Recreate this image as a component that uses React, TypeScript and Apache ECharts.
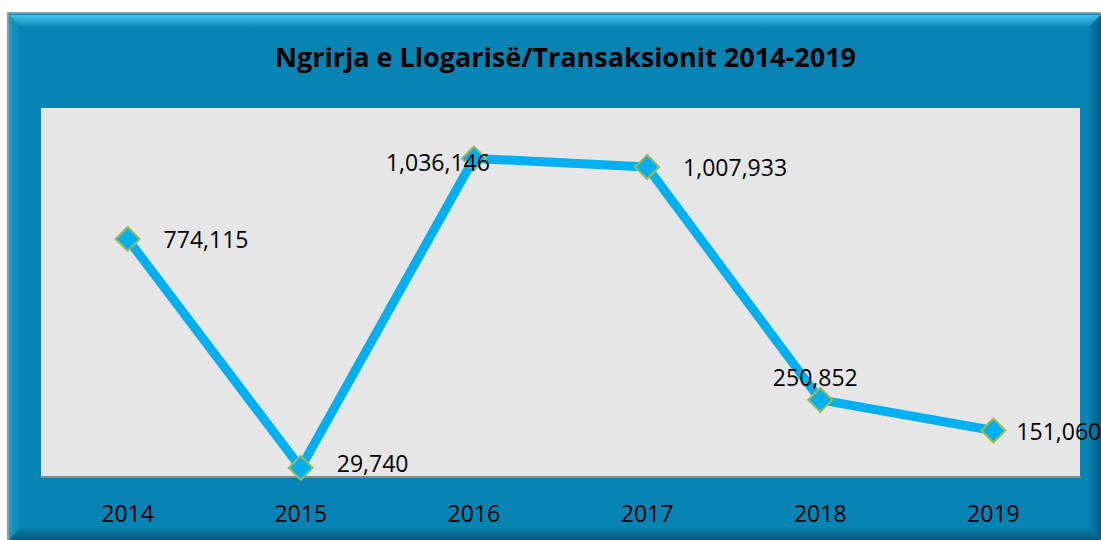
import React, { useEffect, useRef } from "react";
import * as echarts from "echarts";

const years = ["2014", "2015", "2016", "2017", "2018", "2019"];
const values = [774115, 29740, 1036146, 1007933, 250852, 151060];
const titleText = "Ngrirja e Llogarisë/Transaksionit 2014-2019";

const fmt = (v: number) => v.toLocaleString("en-US");

export default function App() {
  const ref = useRef<HTMLDivElement>(null);
  useEffect(() => {
    if (!ref.current) return;
    const chart = echarts.init(ref.current, null, { renderer: "svg" });
    const labelOverrides: Record<number, any> = {
      1: { offset: [0, -5] },
      2: { position: "inside", offset: [-36, 4] },
      4: { position: "top", distance: 0, offset: [-5, 2] },
      5: { distance: 10 },
    };
    const data = values.map((v, i) => ({
      value: v,
      label: labelOverrides[i] || undefined,
    }));
    chart.setOption({
      animation: false,
      backgroundColor: "#ffffff",
      textStyle: { fontFamily: "Open Sans" },
      graphic: [
        {
          type: "rect",
          z: -10,
          shape: { x: 8, y: 13, width: 1093, height: 527 },
          style: { fill: "#0784B3", stroke: "#8a9ba5", lineWidth: 2 },
        },
        {
          type: "polygon",
          z: -9,
          shape: { points: [[9, 15], [1100, 15], [1088, 28], [21, 28]] },
          style: {
            fill: new echarts.graphic.LinearGradient(0, 0, 0, 1, [
              { offset: 0, color: "#45c4ef" },
              { offset: 1, color: "#0784B3" },
            ]),
          },
        },
        {
          type: "polygon",
          z: -9,
          shape: { points: [[9, 15], [21, 28], [21, 527], [9, 539]] },
          style: {
            fill: new echarts.graphic.LinearGradient(0, 0, 1, 0, [
              { offset: 0, color: "#1b9ccc" },
              { offset: 1, color: "#0784B3" },
            ]),
          },
        },
        {
          type: "polygon",
          z: -9,
          shape: { points: [[1101, 15], [1088, 28], [1088, 527], [1101, 540]] },
          style: {
            fill: new echarts.graphic.LinearGradient(0, 0, 1, 0, [
              { offset: 0, color: "#0784B3" },
              { offset: 1, color: "#045a7c" },
            ]),
          },
        },
        {
          type: "polygon",
          z: -9,
          shape: { points: [[21, 527], [1088, 527], [1101, 540], [9, 540]] },
          style: {
            fill: new echarts.graphic.LinearGradient(0, 0, 0, 1, [
              { offset: 0, color: "#0784B3" },
              { offset: 1, color: "#04597a" },
            ]),
          },
        },
      ],
      title: {
        text: titleText,
        left: 270,
        top: 38,
        textStyle: {
          fontFamily: "Open Sans",
          fontWeight: "bold",
          fontSize: 27,
          color: "#000000",
        },
      },
      grid: {
        left: 41,
        right: 21,
        top: 108,
        bottom: 63,
        show: true,
        backgroundColor: "#E6E6E6",
        borderWidth: 0,
      },
      xAxis: {
        type: "category",
        data: years,
        boundaryGap: true,
        axisLine: { show: true, lineStyle: { color: "#8c8c8c", width: 2 } },
        axisTick: { show: false },
        axisLabel: {
          color: "#000000",
          fontSize: 23,
          fontFamily: "Open Sans",
          margin: 24,
        },
      },
      yAxis: {
        type: "value",
        min: 0,
        max: 1200000,
        show: false,
        splitLine: { show: false },
      },
      series: [
        {
          type: "line",
          data,
          lineStyle: { color: "#00B0F0", width: 9 },
          symbol: "diamond",
          symbolSize: 24,
          itemStyle: { color: "#00B0F0", borderColor: "#9BBB59", borderWidth: 2 },
          label: {
            show: true,
            position: "right",
            distance: 23,
            color: "#000000",
            fontSize: 23,
            fontFamily: "Open Sans",
            formatter: (p: any) => fmt(p.value),
          },
        },
      ],
    });
    return () => chart.dispose();
  }, []);
  return (
    <div
      ref={ref}
      style={{ position: "absolute", left: 0, top: 0, width: 1101, height: 540 }}
    />
  );
}
